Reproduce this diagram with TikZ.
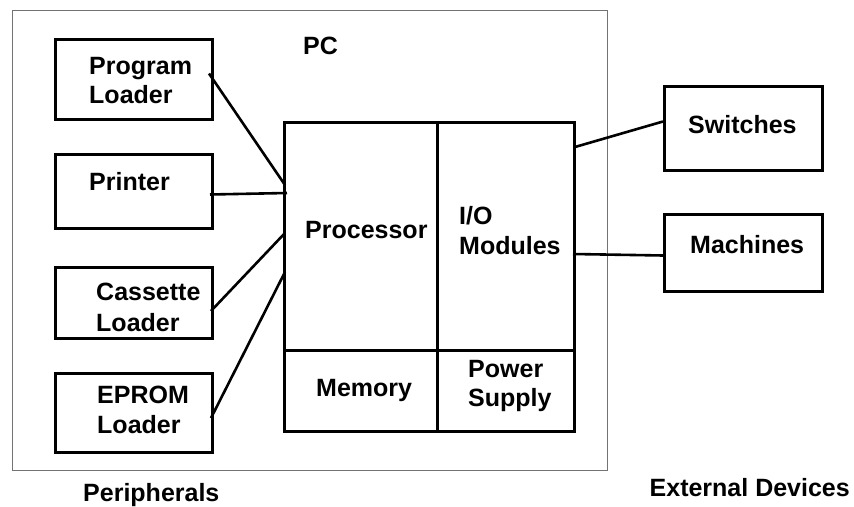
\documentclass[tikz,border=0pt]{standalone}
\usepackage{fontspec}
\setmainfont{Liberation Sans}
\begin{document}
\begin{tikzpicture}[x=1pt,y=-1pt,
  box/.style={draw=black, line width=3pt, rectangle, inner sep=0pt, anchor=north west},
  frame/.style={draw=black!55, line width=1.3pt, rectangle, inner sep=0pt, anchor=north west},
  lbl/.style={font=\bfseries\fontsize{25}{25}\selectfont, inner sep=0pt, anchor=base west},
  wire/.style={draw=black, line width=2.6pt}]
  \useasboundingbox (0,0) rectangle (854,506);

  % PC enclosure
  \node[frame, minimum width=595pt, minimum height=460pt] (pc) at (12,10) {};

  % peripherals
  \node[box, minimum width=157pt, minimum height=80pt] (prog)  at (54,38)  {};
  \node[box, minimum width=157pt, minimum height=74pt] (print) at (54,153) {};
  \node[box, minimum width=157pt, minimum height=71pt] (cass)  at (54,266) {};
  \node[box, minimum width=157pt, minimum height=79pt] (eprom) at (54,372) {};

  % PLC cells
  \node[box, minimum width=153pt, minimum height=228pt] (proc) at (283,121) {};
  \node[box, minimum width=137pt, minimum height=228pt] (io)   at (436,121) {};
  \node[box, minimum width=153pt, minimum height=81pt]  (mem)  at (283,349) {};
  \node[box, minimum width=137pt, minimum height=81pt]  (pow)  at (436,349) {};

  % external devices
  \node[box, minimum width=158pt, minimum height=84pt] (sw)   at (663,85)  {};
  \node[box, minimum width=158pt, minimum height=77pt] (mach) at (663,213) {};

  % labels
  \node[lbl] (tpc)   at (303,54)  {PC};
  \node[lbl] (tprog1) at (89,74)  {Program};
  \node[lbl] (tprog2) at (89,103) {Loader};
  \node[lbl] (tprint) at (89,190) {Printer};
  \node[lbl] (tcass1) at (96,300) {Cassette};
  \node[lbl] (tcass2) at (96,331) {Loader};
  \node[lbl] (tep1)  at (97,403)  {EPROM};
  \node[lbl] (tep2)  at (97,433)  {Loader};
  \node[lbl] (tproc) at (305,238) {Processor};
  \node[lbl] (tio1)  at (459,224) {I/O};
  \node[lbl] (tio2)  at (459,254) {Modules};
  \node[lbl] (tmem)  at (316,396) {Memory};
  \node[lbl] (tpow1) at (468,377) {Power};
  \node[lbl] (tpow2) at (468,406) {Supply};
  \node[lbl] (tsw)   at (688,133) {Switches};
  \node[lbl] (tmach) at (690,253) {Machines};
  \node[lbl] (tper)  at (83,501)  {Peripherals};
  \node[lbl, anchor=base east] (text) at (850,496) {External Devices};

  % connections
  \draw[wire] ([shift={(-5,-6)}]prog.east) -- ([shift={(2,64)}]proc.north west);
  \draw[wire] ([shift={(-4,3)}]print.east) -- ([shift={(4,72)}]proc.north west);
  \draw[wire] ([shift={(-3,8)}]cass.east) -- ([shift={(2,112)}]proc.north west);
  \draw[wire] ([shift={(-3,5)}]eprom.east) -- ([shift={(2,151)}]proc.north west);
  \draw[wire] ([shift={(-1,26)}]io.north east) -- ([shift={(0,-7)}]sw.west);
  \draw[wire] ([shift={(-3,133)}]io.north east) -- ([shift={(0,2.5)}]mach.west);
\end{tikzpicture}
\end{document}
